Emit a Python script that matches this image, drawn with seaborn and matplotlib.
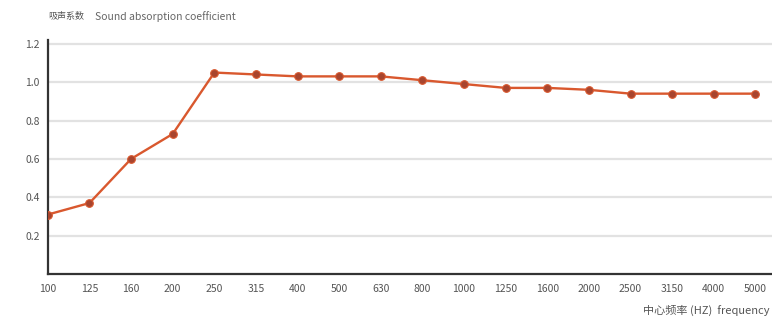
import matplotlib
matplotlib.use("Agg")
import matplotlib.pyplot as plt
import seaborn as sns
import pandas as pd

freqs = ["100", "125", "160", "200", "250", "315", "400", "500", "630", "800",
         "1000", "1250", "1600", "2000", "2500", "3150", "4000", "5000"]
coef = [0.31, 0.37, 0.60, 0.73, 1.05, 1.04, 1.03, 1.03, 1.03, 1.01,
        0.99, 0.97, 0.97, 0.96, 0.94, 0.94, 0.94, 0.94]
yticks = [0.2, 0.4, 0.6, 0.8, 1.0, 1.2]
ytick_labels = ["0.2", "0.4", "0.6", "0.8", "1.0", "1.2"]

sns.set_theme(style="white")
plt.rcParams['font.family'] = ['Noto Sans CJK SC', 'DejaVu Sans']

df = pd.DataFrame({"freq": freqs, "coef": coef})
df["pos"] = range(len(freqs))

fig = plt.figure(figsize=(7.72, 3.22), dpi=100)
ax = fig.add_axes([0.062, 0.149, 0.938, 0.727])

for y in yticks:
    ax.axhline(y, color="#e2e2e2", lw=1.6, zorder=0)

sns.lineplot(data=df, x="pos", y="coef", ax=ax, color="#d9582e", lw=1.7,
             marker="o", markersize=5.5, markerfacecolor="#a8452e",
             markeredgecolor="#d9582e", markeredgewidth=0.8, zorder=3)

ax.set_xticks(list(df["pos"]))
ax.set_xticklabels(freqs)
ax.set_yticks(yticks)
ax.set_yticklabels(ytick_labels)
ax.set_xlim(0, 17.4)
ax.set_ylim(0, 1.22)
ax.tick_params(axis="x", direction="inout", length=6, width=1.2, color="#333333",
               labelsize=7.5, labelcolor="#555555", pad=4)
ax.tick_params(axis="y", length=0, labelsize=7.5, labelcolor="#555555", pad=6)
ax.set_xlabel("")
ax.set_ylabel("")
for s in ["top", "right"]:
    ax.spines[s].set_visible(False)
for s in ["left", "bottom"]:
    ax.spines[s].set_color("#333333")
    ax.spines[s].set_linewidth(1.6)

fig.text(0.062, 0.95, "吸声系数", fontsize=6.5, color="#555555", va="center")
fig.text(0.123, 0.95, "Sound absorption coefficient", fontsize=7.5, color="#666666", va="center")
fig.text(0.997, 0.035, "中心频率 (HZ)  frequency", fontsize=8, color="#555555",
         ha="right", va="center")

fig.savefig("out.png", dpi=100)
